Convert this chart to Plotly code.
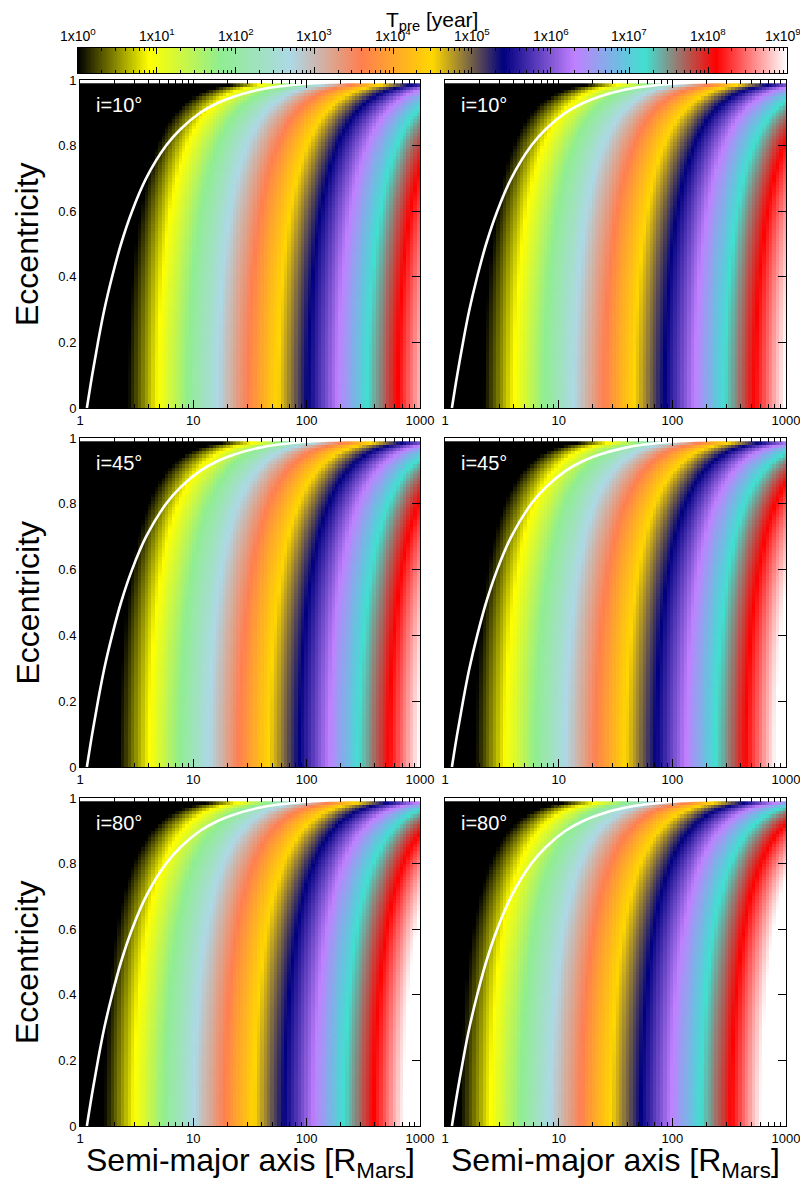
import numpy as np
import plotly.graph_objects as go

# ---------------- data ----------------
# colour scale stops: position in log10(T_pre/yr) and colour
cs_logT = [0.0, 0.9, 1.8, 2.7, 3.6, 4.5, 5.4, 6.3, 7.2, 8.1, 9.0]
cs_colour = ["#000000", "#ffff00", "#90ee90", "#add8e6", "#ff7f50", "#ffd700",
             "#000080", "#c080ff", "#40e0d0", "#ff0000", "#ffffff"]

# colour-bar tick labels
cb_tick_logT = [0, 1, 2, 3, 4, 5, 6, 7, 8, 9]
cb_tick_text = ["1x10<sup>%d</sup>" % k for k in cb_tick_logT]

# panel inclinations (rows)
inclination_labels = ["i=10°", "i=45°", "i=80°"]
# log10 T_pre at a = 1 R_Mars, e = 0, read for each panel
logT_at_a1_left = [-1.43, -1.17, -0.72]
logT_at_a1_right = [-1.16, -0.90, -0.46]
# read slopes: d log T / d log a  and exponent of (1 - e^2)
slope_loga = 3.4
ecc_exponent = 2.0

# heat-map grid (cell centres): log10(a/R_Mars) and eccentricity
loga_grid = np.round(np.arange(100) * 0.03 + 0.015, 4)
ecc_grid = np.round(np.arange(99) * 0.01 + 0.005, 4)

# white curve (e, a)
curve_e = [0.0, 0.1, 0.2, 0.3, 0.4, 0.5, 0.6, 0.7, 0.8, 0.85, 0.9, 0.93,
           0.95, 0.97, 0.98, 0.99, 0.995, 0.9977, 0.99885]
curve_a = [1.15, 1.28, 1.44, 1.64, 1.92, 2.3, 2.88, 3.83, 5.75, 7.7, 11.5,
           16.4, 23.0, 38.0, 57.0, 115.0, 230.0, 500.0, 1000.0]

x_tick_vals = [0, 1, 2, 3]
x_tick_text = ["1", "10", "100", "1000"]
y_tick_vals = [0, 0.2, 0.4, 0.6, 0.8, 1.0]
y_tick_text = ["0", "0.2", "0.4", "0.6", "0.8", "1"]

# ---------------- layout geometry (pixels in the final page) ----------------
PAGE_OFF = 8            # the page body offsets the figure by 8 px
W, H = 808 - PAGE_OFF, 1192 - PAGE_OFF
col_px = [(80, 420), (445, 786)]
row_px = [(80, 408), (438, 767), (798, 1126)]
cb_px_x = (78, 787)
cb_px_y = (48, 73)
FONT = "Liberation Sans, Arial, Helvetica, sans-serif"


def dx(p):
    return (p - PAGE_OFF) / W


def dy(p):
    return 1 - (p - PAGE_OFF) / H


colorscale = [[v / 9.0, c] for v, c in zip(cs_logT, cs_colour)]
minor_vals = [d + np.log10(m) for d in range(3) for m in range(2, 10)]
cb_minor_vals = [d + np.log10(m) for d in range(9) for m in range(2, 10)]

fig = go.Figure()
layout = dict(width=W, height=H,
              margin=dict(l=0, r=0, t=0, b=0, pad=0, autoexpand=False),
              paper_bgcolor="white", plot_bgcolor="white",
              font=dict(family=FONT, color="black"), showlegend=False)
annotations = []

LA, EE = np.meshgrid(loga_grid, ecc_grid)
curve_loga = np.log10(np.array(curve_a))

n = 0
for r in range(3):
    for c in range(2):
        n += 1
        sfx = "" if n == 1 else str(n)
        c0 = logT_at_a1_left[r] if c == 0 else logT_at_a1_right[r]
        z = c0 + slope_loga * LA + ecc_exponent * np.log10(1 - EE ** 2)
        fig.add_trace(go.Heatmap(x=loga_grid, y=ecc_grid, z=z, zmin=0, zmax=9,
                                 colorscale=colorscale, showscale=False,
                                 xaxis="x" + sfx, yaxis="y" + sfx,
                                 hoverinfo="skip"))
        fig.add_trace(go.Scatter(x=curve_loga, y=curve_e, mode="lines",
                                 line=dict(color="white", width=2.6, shape="spline"),
                                 xaxis="x" + sfx, yaxis="y" + sfx,
                                 hoverinfo="skip", cliponaxis=True))
        layout["xaxis" + sfx] = dict(
            domain=[dx(col_px[c][0]), dx(col_px[c][1])], anchor="y" + sfx,
            range=[0, 3], tickvals=x_tick_vals, ticktext=x_tick_text,
            ticks="inside", ticklen=8, tickwidth=1, tickcolor="black",
            showline=True, linecolor="black", linewidth=1, mirror="allticks",
            showgrid=False, zeroline=False, tickfont=dict(size=13),
            automargin=False, ticklabeloverflow="allow",
            minor=dict(tickvals=minor_vals, ticks="inside", ticklen=4,
                       tickcolor="black", tickwidth=1, showgrid=False),
            layer="above traces")
        layout["yaxis" + sfx] = dict(
            domain=[dy(row_px[r][1]), dy(row_px[r][0])], anchor="x" + sfx,
            range=[0, 1], tickvals=y_tick_vals, ticktext=y_tick_text,
            showticklabels=(c == 0),
            ticks="inside", ticklen=8, tickwidth=1, tickcolor="black",
            showline=True, linecolor="black", linewidth=1, mirror="allticks",
            showgrid=False, zeroline=False, tickfont=dict(size=13),
            automargin=False, ticklabeloverflow="allow", layer="above traces")
        annotations.append(dict(text=inclination_labels[r], xref="x%s domain" % sfx,
                                yref="y%s domain" % sfx, x=0.04, y=0.925,
                                xanchor="left", yanchor="middle", showarrow=False,
                                font=dict(size=20, color="white")))
    annotations.append(dict(text="Eccentricity", xref="paper", yref="paper",
                            x=dx(27), y=dy((row_px[r][0] + row_px[r][1]) / 2),
                            textangle=-90, showarrow=False,
                            xanchor="center", yanchor="middle",
                            font=dict(size=32)))

for c in range(2):
    annotations.append(dict(text="Semi-major axis [R<sub>Mars</sub>]",
                            xref="paper", yref="paper",
                            x=dx((col_px[c][0] + col_px[c][1]) / 2), y=dy(1162),
                            showarrow=False, xanchor="center", yanchor="middle",
                            font=dict(size=32)))

# colour bar drawn as its own heat-map strip
cb_vals = np.round(np.arange(900) * 0.01 + 0.005, 4)
fig.add_trace(go.Heatmap(x=cb_vals, y=[0.5], z=[cb_vals], zmin=0, zmax=9,
                         colorscale=colorscale, showscale=False,
                         xaxis="x7", yaxis="y7", hoverinfo="skip"))
layout["xaxis7"] = dict(domain=[dx(cb_px_x[0]), dx(cb_px_x[1])], anchor="y7",
                        side="top", range=[0, 9], tickvals=cb_tick_logT,
                        showticklabels=False, ticks="inside", ticklen=6,
                        tickcolor="black", showline=True, linecolor="black",
                        linewidth=1, mirror="allticks", showgrid=False,
                        zeroline=False, automargin=False,
                        minor=dict(tickvals=cb_minor_vals, ticks="inside",
                                   ticklen=3, tickcolor="black", showgrid=False),
                        layer="above traces")
layout["yaxis7"] = dict(domain=[dy(cb_px_y[1]), dy(cb_px_y[0])], anchor="x7",
                        range=[0, 1], showticklabels=False, ticks="",
                        showline=True, linecolor="black", linewidth=1,
                        mirror=True, showgrid=False, zeroline=False,
                        automargin=False)
# colour-bar tick labels placed on the strip's own axis coordinates
for k, (v, t) in enumerate(zip(cb_tick_logT, cb_tick_text)):
    last = k == len(cb_tick_logT) - 1
    annotations.append(dict(text=t, xref="x7", yref="paper", x=v,
                            y=dy(35), showarrow=False,
                            xanchor="right" if last else "center",
                            xshift=16 if last else 0,
                            yanchor="middle", font=dict(size=14)))
annotations.append(dict(text="T<sub>pre</sub> [year]", xref="paper", yref="paper",
                        x=dx(432), y=dy(21), showarrow=False,
                        xanchor="center", yanchor="middle", font=dict(size=21)))

layout["annotations"] = annotations
fig.update_layout(**layout)
fig.write_html("out.html")
